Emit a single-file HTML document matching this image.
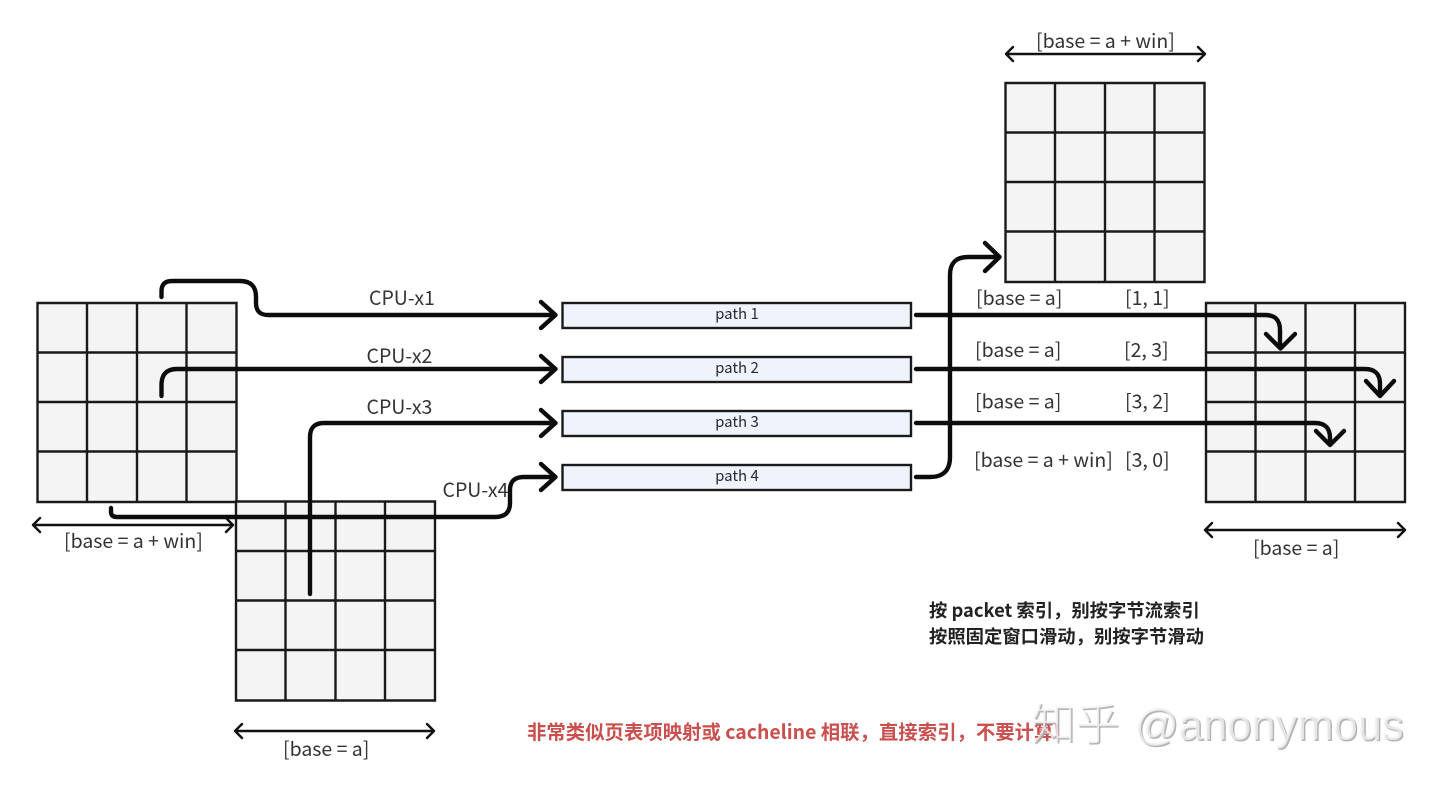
<!DOCTYPE html>
<html><head><meta charset="utf-8"><style>
html,body{margin:0;padding:0;background:#fff;width:1440px;height:788px;overflow:hidden}
svg{display:block}
text{font-family:"Liberation Sans","Noto Sans CJK SC",sans-serif}
.t{font-family:"Noto Sans CJK SC","Liberation Sans",sans-serif;font-size:19.500px;fill:#333;font-weight:400}
.p{font-family:"Noto Sans CJK SC","Liberation Sans",sans-serif;font-size:15px;fill:#2a2a35;text-anchor:middle}
.b{font-family:"Noto Sans CJK SC","Liberation Sans",sans-serif;font-size:18.33px;font-weight:700;fill:#222}
.g{fill:none;stroke:#1a1a1a;stroke-width:2.4}
.h{fill:none;stroke:#0c0c0c;stroke-width:4.4;stroke-linecap:round;stroke-linejoin:round}
.d{fill:none;stroke:#111;stroke-width:2.4;stroke-linecap:round;stroke-linejoin:round}
.w1{font-family:"Noto Sans CJK SC",sans-serif;font-size:44px;font-weight:300}
.w2{font-family:"Liberation Sans",sans-serif;font-size:43.500px}
</style></head><body>
<svg width="1440" height="788" viewBox="0 0 1440 788" xmlns="http://www.w3.org/2000/svg">
<defs>
<g id="grid">
<rect x="0" y="0" width="199" height="199" fill="#f4f4f4"/>
<path class="g" d="M0 0H199V199H0ZM49.500 0V199M99.500 0V199M149 0V199M0 49.500H199M0 99H199M0 148.500H199"/>
</g>
</defs>
<use href="#grid" x="37.500" y="303"/>
<use href="#grid" x="236" y="501.500"/>
<use href="#grid" x="1005.500" y="83"/>
<use href="#grid" x="1206" y="303"/>

<g fill="#eef3fc" stroke="#1a1a1a" stroke-width="2.400">
<rect x="562.500" y="303" width="348.500" height="25"/>
<rect x="562.500" y="357" width="348.500" height="25"/>
<rect x="562.500" y="411" width="348.500" height="25"/>
<rect x="562.500" y="465" width="348.500" height="25"/>
</g>
<text class="p" x="737" y="319">path 1</text>
<text class="p" x="737" y="373">path 2</text>
<text class="p" x="737" y="427">path 3</text>
<text class="p" x="737" y="481">path 4</text>

<path class="h" d="M161.500 297V291Q161.500 281 172 281H240Q256 281 256 297V303Q256 315 268 315H554M541 302L555.500 315L541 328"/>
<path class="h" d="M161.500 396V385Q161.500 369 177 369H554M541 356L555.500 369L541 382"/>
<path class="h" d="M310 594V437Q310 423 324 423H554M541 410L555.500 423L541 436"/>
<path class="h" d="M111 508V512Q111 517 117 517H495Q510 517 510 503V490Q510 477 524 477H554M541 464L555.500 477L541 490"/>
<path class="h" d="M916 315H1265Q1280 315 1280 330V347M1266 334L1280.500 348.500L1295 334"/>
<path class="h" d="M916 369H1365Q1380 369 1380 384V395M1366 381L1380 396L1394 381"/>
<path class="h" d="M916 423H1315Q1330 423 1330 438V444M1316 431L1330 445L1344 431"/>
<path class="h" d="M916 477H930Q950 477 950 457V275Q950 257 968 257H998M985 243L999.500 257L985 271"/>

<path class="d" d="M33 525H233M40 518L33 525L40 532M226 518L233 525L226 532"/>
<path class="d" d="M235 731H434M242 724L235 731L242 738M427 724L434 731L427 738"/>
<path class="d" d="M1006 54H1205M1013 47L1006 54L1013 61M1198 47L1205 54L1198 61"/>
<path class="d" d="M1205 530H1405M1212 523L1205 530L1212 537M1398 523L1405 530L1398 537"/>

<text class="t" x="369" y="305">CPU-x1</text>
<text class="t" x="366.500" y="363">CPU-x2</text>
<text class="t" x="366.500" y="414">CPU-x3</text>
<text class="t" x="442.500" y="497">CPU-x4</text>
<text class="t" x="64" y="548">[base = a + win]</text>
<text class="t" x="283" y="756">[base = a]</text>
<text class="t" x="1036" y="48">[base = a + win]</text>
<text class="t" x="1253" y="555">[base = a]</text>
<text class="t" x="976" y="305">[base = a]</text>
<text class="t" x="975" y="357">[base = a]</text>
<text class="t" x="975" y="408.500">[base = a]</text>
<text class="t" x="974" y="467">[base = a + win]</text>
<text class="t" x="1125" y="305">[1, 1]</text>
<text class="t" x="1124" y="357">[2, 3]</text>
<text class="t" x="1125" y="408.500">[3, 2]</text>
<text class="t" x="1125" y="467">[3, 0]</text>

<text class="b" x="929" y="617">按 packet 索引，别按字节流索引</text>
<text class="b" x="929" y="643">按照固定窗口滑动，别按字节滑动</text>
<text class="b" x="527" y="739" style="fill:#c9504f;font-size:19.400px">非常类似页表项映射或 cacheline 相联，直接索引，不要计算!</text>

<g fill="#a8a8a8" opacity="0.85">
<text class="w1" x="1033" y="741">知乎</text>
<text class="w2" x="1136" y="741">@anonymous</text>
</g>
<g fill="#f2f2f2" opacity="0.8">
<text class="w1" x="1031.500" y="739.500">知乎</text>
<text class="w2" x="1134.500" y="739.500">@anonymous</text>
</g>
</svg>
</body></html>
